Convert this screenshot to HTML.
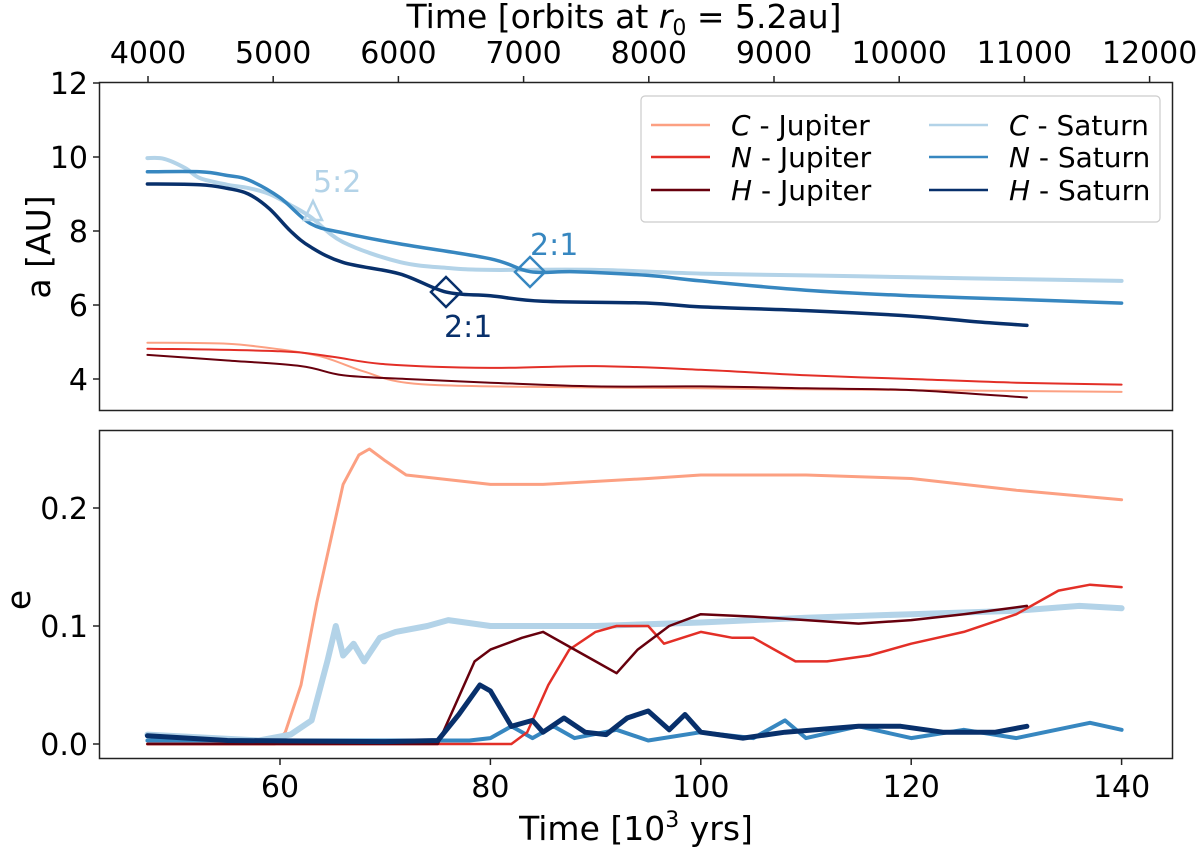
<!DOCTYPE html>
<html><head><meta charset="utf-8"><style>
html,body{margin:0;padding:0;background:#fff;}
svg{display:block;font-family:"DejaVu Sans","Liberation Sans",sans-serif;}
</style></head><body>
<svg id="chart" width="1200" height="854" viewBox="0 0 1200 854"></svg>
<script>
// ---- data (time in 10^3 yrs) ----
const aCSatT=[47.4,49,51,52.4,55,57,59,61,62.9,66,71.4,76,80,90,100,110,120,130,140];
const aCSatV=[9.97,9.95,9.7,9.43,9.25,9.16,9.0,8.7,8.38,7.7,7.16,7.0,6.95,6.95,6.85,6.8,6.75,6.7,6.65];
const aNSatT=[47.4,52.4,55,57,60,62.9,66,71.4,80,83.8,88,95,100,110,120,130,140];
const aNSatV=[9.6,9.6,9.5,9.38,8.9,8.2,7.95,7.65,7.25,6.9,6.9,6.8,6.65,6.4,6.25,6.15,6.05];
const aHSatT=[47.4,52.4,55,57,59,61,62.9,66,71.4,75.8,80,85,95,100,110,120,126,131];
const aHSatV=[9.27,9.25,9.15,9.0,8.6,8.0,7.57,7.15,6.84,6.35,6.25,6.1,6.05,5.95,5.85,5.7,5.55,5.45];
const aCJupT=[47.4,55,60,64,68,72,80,100,120,140];
const aCJupV=[4.98,4.95,4.8,4.6,4.2,3.9,3.8,3.75,3.7,3.65];
const aNJupT=[47.4,60,65,70,80,90,100,110,120,130,140];
const aNJupV=[4.82,4.75,4.6,4.4,4.3,4.35,4.25,4.1,4.0,3.9,3.85];
const aHJupT=[47.4,55,62,66,72,80,90,100,110,120,131];
const aHJupV=[4.65,4.5,4.35,4.1,4.0,3.9,3.8,3.8,3.75,3.7,3.5];

const eCJupT=[47.4,59.5,60.5,62,63.5,65,66,67.5,68.5,70,72,75,80,85,95,100,110,120,130,140];
const eCJupV=[0,0,0.01,0.05,0.12,0.18,0.22,0.245,0.25,0.24,0.228,0.225,0.22,0.22,0.225,0.228,0.228,0.225,0.215,0.207];
const eCSatT=[47.4,58,61,63,64.5,65.3,66,67,68,69.5,71,74,76,80,90,100,110,120,130,136,140];
const eCSatV=[0.008,0.003,0.008,0.02,0.07,0.1,0.075,0.085,0.07,0.09,0.095,0.1,0.105,0.1,0.1,0.103,0.107,0.11,0.113,0.117,0.115];
const eNJupT=[47.4,82,83.5,85.5,87.5,90,92,95,96.5,100,103,105,107,109,112,116,120,125,130,134,137,140];
const eNJupV=[0,0,0.01,0.05,0.08,0.095,0.1,0.1,0.085,0.095,0.09,0.09,0.08,0.07,0.07,0.075,0.085,0.095,0.11,0.13,0.135,0.133];
const eHJupT=[47.4,75,76.5,78.5,80,83,85,88,90,92,94,97,100,105,110,115,120,125,131];
const eHJupV=[0,0,0.03,0.07,0.08,0.09,0.095,0.08,0.07,0.06,0.08,0.1,0.11,0.108,0.105,0.102,0.105,0.11,0.117];
const eNSatT=[47.4,78,80,82,84,86,88,92,95,100,105,108,110,115,120,125,130,137,140];
const eNSatV=[0.003,0.003,0.005,0.015,0.005,0.015,0.005,0.012,0.003,0.01,0.005,0.02,0.005,0.015,0.005,0.012,0.005,0.018,0.012];
const eHSatT=[47.4,55,70,75,77,79,80,82,84,85,87,89,91,93,95,97,98.5,100,104,108,115,119,123,128,131];
const eHSatV=[0.007,0.003,0.002,0.003,0.025,0.05,0.045,0.015,0.02,0.01,0.022,0.01,0.008,0.022,0.028,0.012,0.025,0.01,0.005,0.01,0.015,0.015,0.01,0.01,0.015];

const botTicks=[60,80,100,120,140];
const topTicks=[4000,5000,6000,7000,8000,9000,10000,11000,12000];
const aTicks=[4,6,8,10,12];
const eTicks=[0.0,0.1,0.2];

// ---- scales ----
const X=t=>280+(t-60)*10.52;
const XO=o=>148+(o-4000)*0.1252;
const YA=a=>83+(12-a)*37;
const YE=e=>744-e*1180;

const NS='http://www.w3.org/2000/svg';
const svg=document.getElementById('chart');
function mk(tag,attrs,parent){const el=document.createElementNS(NS,tag);for(const k in attrs)el.setAttribute(k,attrs[k]);(parent||svg).appendChild(el);return el;}
function smoothPath(P){
  let d='M'+P[0][0].toFixed(1)+','+P[0][1].toFixed(1);
  for(let i=0;i<P.length-1;i++){
    const p0=P[Math.max(i-1,0)],p1=P[i],p2=P[i+1],p3=P[Math.min(i+2,P.length-1)];
    const c1x=p1[0]+(p2[0]-p0[0])/6,c1y=p1[1]+(p2[1]-p0[1])/6;
    const c2x=p2[0]-(p3[0]-p1[0])/6,c2y=p2[1]-(p3[1]-p1[1])/6;
    d+=' C'+c1x.toFixed(1)+','+c1y.toFixed(1)+' '+c2x.toFixed(1)+','+c2y.toFixed(1)+' '+p2[0].toFixed(1)+','+p2[1].toFixed(1);
  }
  return d;
}
function line(T,V,Y,color,w,name,smooth){
  const P=T.map((t,i)=>[X(t),Y(V[i])]);
  let el;
  if(smooth){el=mk('path',{d:smoothPath(P),fill:'none',stroke:color,'stroke-width':w,'stroke-linejoin':'round','stroke-linecap':'round'});}
  else{el=mk('polyline',{points:P.map(p=>p[0].toFixed(1)+','+p[1].toFixed(1)).join(' '),fill:'none',stroke:color,'stroke-width':w,'stroke-linejoin':'round','stroke-linecap':'round'});}
  
  
}
function text(x,y,s,size,anchor,name,color){
  const el=mk('text',{x:x,y:y,'font-size':size,'text-anchor':anchor||'middle',fill:color||'#000'});
  el.textContent=s;
  
  
  return el;
}
const cLJ='#fca082',cNJ='#e32f27',cHJ='#67000d',cCS='#b3d3e8',cNS='#3787c0',cHS='#08306b';

// ---- top panel ----
line(aCJupT,aCJupV,YA,cLJ,2,'a-c-jupiter-line',true);
line(aNJupT,aNJupV,YA,cNJ,2,'a-n-jupiter-line',true);
line(aHJupT,aHJupV,YA,cHJ,2,'a-h-jupiter-line',true);
line(aCSatT,aCSatV,YA,cCS,4,'a-c-saturn-line',true);
line(aNSatT,aNSatV,YA,cNS,3.5,'a-n-saturn-line',true);
line(aHSatT,aHSatV,YA,cHS,3.5,'a-h-saturn-line',true);
let m=mk('polygon',{points:'304,220 322,220 313,201',fill:'none',stroke:cCS,'stroke-width':2.5});

text(313,192,'5:2',30,'start','resonance-5-2-label',cCS);
m=mk('polygon',{points:'515,272 530,257 545,272 530,287',fill:'none',stroke:cNS,'stroke-width':2.5});

text(530,255,'2:1',30,'start','n-saturn-2-1-label',cNS);
m=mk('polygon',{points:'431,292 446,277 461,292 446,307',fill:'none',stroke:cHS,'stroke-width':2.5});

text(444,337,'2:1',30,'start','h-saturn-2-1-label',cHS);

let f=mk('rect',{x:99.5,y:82.5,width:1073,height:328,fill:'none',stroke:'#222','stroke-width':1.5});

aTicks.forEach(v=>{mk('line',{x1:93,x2:99,y1:YA(v),y2:YA(v),stroke:'#222','stroke-width':1.5});text(88,YA(v)+11,String(v),30,'end','a-tick-label');});
topTicks.forEach(o=>{mk('line',{x1:XO(o),x2:XO(o),y1:76,y2:82,stroke:'#222','stroke-width':1.5});text(XO(o),63,String(o),30,'middle','top-x-tick-label');});
let tt=mk('text',{x:624,y:28,'font-size':33,'text-anchor':'middle'});
tt.innerHTML='Time [orbits at <tspan font-style="italic">r</tspan><tspan font-size="22" dy="7">0</tspan><tspan dy="-7"> = 5.2au]</tspan>';

let yt=text(0,0,'a [AU]',33,'middle','a-axis-title');yt.setAttribute('transform','translate(50,247) rotate(-90)');

let lg=mk('rect',{x:641,y:96,width:519,height:126,rx:4,fill:'#fff','fill-opacity':0.85,stroke:'#ccc','stroke-width':1.2});

const legItems=[[651,125,cLJ,'C',' - Jupiter'],[651,157,cNJ,'N',' - Jupiter'],[651,190,cHJ,'H',' - Jupiter'],[929,125,cCS,'C',' - Saturn'],[929,157,cNS,'N',' - Saturn'],[929,190,cHS,'H',' - Saturn']];
legItems.forEach(it=>{
  const g=mk('g',{});
  
  
  mk('line',{x1:it[0],x2:it[0]+59,y1:it[1],y2:it[1],stroke:it[2],'stroke-width':2.5},g);
  const t=mk('text',{x:it[0]+80,y:it[1]+10,'font-size':28},g);
  t.innerHTML='<tspan font-style="italic">'+it[3]+'</tspan>'+it[4];
});

// ---- bottom panel ----
line(eCJupT,eCJupV,YE,cLJ,3,'e-c-jupiter-line');
line(eCSatT,eCSatV,YE,cCS,6,'e-c-saturn-line');
line(eNSatT,eNSatV,YE,cNS,4,'e-n-saturn-line');
line(eNJupT,eNJupV,YE,cNJ,2.5,'e-n-jupiter-line');
line(eHJupT,eHJupV,YE,cHJ,2.5,'e-h-jupiter-line');
line(eHSatT,eHSatV,YE,cHS,5,'e-h-saturn-line');
f=mk('rect',{x:99.5,y:430.5,width:1073,height:328,fill:'none',stroke:'#222','stroke-width':1.5});

eTicks.forEach(v=>{mk('line',{x1:93,x2:99,y1:YE(v),y2:YE(v),stroke:'#222','stroke-width':1.5});text(88,YE(v)+11,v.toFixed(1),30,'end','e-tick-label');});
botTicks.forEach(t=>{mk('line',{x1:X(t),x2:X(t),y1:759,y2:765,stroke:'#222','stroke-width':1.5});text(X(t),797,String(t),30,'middle','bottom-x-tick-label');});
let bt=mk('text',{x:636,y:840,'font-size':33,'text-anchor':'middle'});
bt.innerHTML='Time [10<tspan font-size="22" dy="-13">3</tspan><tspan dy="13"> yrs]</tspan>';

yt=text(0,0,'e',33,'middle','e-axis-title');yt.setAttribute('transform','translate(30,600) rotate(-90)');
</script>
</body></html>
